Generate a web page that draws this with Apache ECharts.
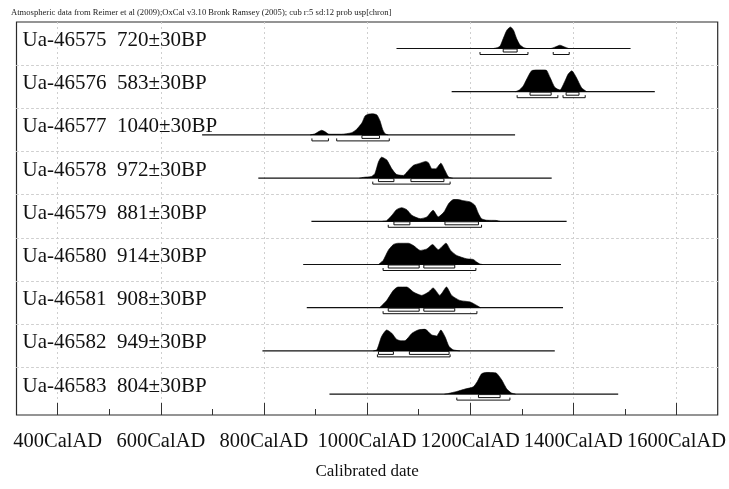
<!DOCTYPE html>
<html>
<head>
<meta charset="utf-8">
<script src="https://cdn.jsdelivr.net/npm/echarts@6/dist/echarts.min.js"></script>
<style>
  html, body { margin: 0; padding: 0; background: #fff; }
  #chart { width: 729px; height: 489px; }
</style>
</head>
<body>
<div id="chart"></div>
<script>
// Sample names with their radiocarbon ages
const sampleLabels = [
  'Ua-46575  720±30BP',
  'Ua-46576  583±30BP',
  'Ua-46577  1040±30BP',
  'Ua-46578  972±30BP',
  'Ua-46579  881±30BP',
  'Ua-46580  914±30BP',
  'Ua-46581  908±30BP',
  'Ua-46582  949±30BP',
  'Ua-46583  804±30BP'
];

// Calendar span over which each calibrated curve is plotted (cal AD)
const plotRanges = [
  [1057, 1511], [1164, 1558], [680, 1287], [789, 1358], [892, 1387],
  [876, 1376], [883, 1380], [797, 1364], [927, 1487]
];

// Calibrated probability distributions: [cal AD, relative probability %]
const dist46575 = [[1245,0],[1254,5],[1258,11],[1264,45],[1271,83],[1278,98],[1284,83],[1290,45],[1296,18],[1303,5],[1310,0],[1356,0],[1365,7],[1374,15],[1383,7],[1391,0]];
const dist46576 = [[1288,0],[1296,9],[1303,27],[1313,73],[1319,95],[1324,99],[1335,100],[1347,99],[1355,64],[1364,20],[1374,8],[1384,50],[1390,80],[1397,95],[1406,64],[1416,18],[1426,0]];
const dist46577 = [[890,0],[899,5],[906,15],[912,21],[918,15],[925,4],[932,3],[950,3],[970,10],[980,26],[990,55],[996,86],[1002,94],[1010,96],[1019,91],[1025,64],[1030,26],[1035,5],[1041,0]];
const dist46578 = [[985,0],[995,4],[1008,7],[1015,20],[1022,73],[1028,95],[1038,83],[1048,42],[1057,17],[1070,12],[1080,35],[1090,58],[1103,68],[1114,76],[1119,70],[1126,42],[1133,42],[1143,68],[1151,35],[1158,5],[1166,0]];
const dist46579 = [[1030,0],[1038,3],[1048,27],[1057,53],[1067,62],[1077,53],[1087,27],[1103,12],[1116,20],[1128,50],[1138,20],[1149,42],[1158,80],[1167,99],[1175,100],[1184,95],[1200,88],[1209,73],[1216,35],[1222,12],[1232,5],[1250,4],[1258,0]];
const dist46580 = [[1022,0],[1031,18],[1041,64],[1051,91],[1060,97],[1080,97],[1090,86],[1103,64],[1116,71],[1127,91],[1138,67],[1153,97],[1162,64],[1174,41],[1193,26],[1206,23],[1212,12],[1218,3],[1224,0]];
const dist46581 = [[1024,0],[1038,33],[1051,79],[1060,94],[1077,94],[1090,71],[1106,56],[1119,71],[1128,90],[1141,56],[1154,94],[1164,56],[1180,33],[1200,26],[1213,10],[1220,0]];
const dist46582 = [[1012,0],[1019,5],[1028,65],[1038,95],[1048,80],[1057,53],[1066,46],[1074,47],[1087,80],[1099,95],[1112,99],[1125,73],[1135,68],[1143,95],[1151,65],[1159,20],[1167,5],[1180,0]];
const dist46583 = [[1150,0],[1158,3],[1174,12],[1190,23],[1206,33],[1214,58],[1222,92],[1232,99],[1242,98],[1251,95],[1261,65],[1271,23],[1280,5],[1288,0]];

// 68.2% (1 sigma) and 95.4% (2 sigma) ranges, cal AD
const sigma1 = [
  [[1264,1291]],
  [[1316,1357],[1386,1411]],
  [[990,1024]],
  [[1022,1052],[1085,1149]],
  [[1052,1083],[1151,1216]],
  [[1041,1101],[1110,1170]],
  [[1041,1101],[1110,1170]],
  [[1022,1051],[1082,1159]],
  [[1216,1258]]
];
const sigma2 = [
  [[1219,1312],[1361,1392]],
  [[1291,1370],[1380,1423]],
  [[893,925],[941,1043]],
  [[1011,1161]],
  [[1041,1222]],
  [[1031,1211]],
  [[1031,1213]],
  [[1020,1161]],
  [[1174,1277]]
];

// Calendar axis
const tickYears = [400, 600, 800, 1000, 1200, 1400, 1600];
const tickLabels = ['400CalAD', '600CalAD', '800CalAD', '1000CalAD', '1200CalAD', '1400CalAD', '1600CalAD'];
const axisTitle = 'Calibrated date';
const headerText = 'Atmospheric data from Reimer et al (2009);OxCal v3.10 Bronk Ramsey (2005); cub r:5 sd:12 prob usp[chron]';

const distributions = [dist46575, dist46576, dist46577, dist46578, dist46579, dist46580, dist46581, dist46582, dist46583];

// ---- layout ----
const FONT = '"Liberation Serif", "Times New Roman", serif';
const X_MIN = 320, X_MAX = 1680;
const FRAME = { left: 16.5, right: 11.3, top: 22, bottom: 74 };
const ROW0 = 48.5, PITCH = 43.2, PEAK_PX = 22;
const Y_MIN = -75, Y_MAX = 100;
const rowHeight = PEAK_PX * (Y_MAX - Y_MIN) / Y_MAX;
const pxPerYear = (729 - FRAME.left - FRAME.right) / (X_MAX - X_MIN);

const grids = [
  // outer frame
  { left: FRAME.left, right: FRAME.right, top: FRAME.top, bottom: FRAME.bottom,
    show: true, borderColor: '#2b2b2b', borderWidth: 1.2, backgroundColor: 'transparent' },
  // calendar ticks / labels / vertical guides
  { left: FRAME.left + (tickYears[0] - X_MIN) * pxPerYear,
    right: FRAME.right + (X_MAX - tickYears[tickYears.length - 1]) * pxPerYear,
    top: FRAME.top, bottom: FRAME.bottom },
  // sample names
  { left: FRAME.left, right: FRAME.right, top: ROW0 - 8 - PITCH / 2, height: PITCH * sampleLabels.length }
];
const xAxes = [
  { gridIndex: 0, type: 'value', min: 0, max: 1, show: false },
  { gridIndex: 1, type: 'value', min: tickYears[0], max: tickYears[tickYears.length - 1], interval: 200,
    axisLine: { show: false },
    axisTick: { show: true, inside: true, length: 12, lineStyle: { color: '#333', width: 1 } },
    minorTick: { show: true, splitNumber: 2, length: 6, lineStyle: { color: '#333', width: 1 } },
    splitLine: { show: true, lineStyle: { color: '#cfcfcf', width: 1, type: [2, 3] } },
    axisLabel: { show: true, showMinLabel: true, showMaxLabel: true, margin: 16,
      fontFamily: FONT, fontSize: 20.5, color: '#111',
      formatter: v => tickLabels[tickYears.indexOf(v)] || '' },
    name: axisTitle, nameLocation: 'middle', nameGap: 48,
    nameTextStyle: { fontFamily: FONT, fontSize: 17, color: '#111' } },
  { gridIndex: 2, type: 'value', min: 0, max: 1, show: false }
];
const yAxes = [
  { gridIndex: 0, type: 'value', min: 0, max: 1, show: false },
  { gridIndex: 1, type: 'value', min: 0, max: 1, show: false },
  { gridIndex: 2, type: 'category', inverse: true, data: sampleLabels,
    axisLine: { show: false }, axisTick: { show: false }, splitLine: { show: false },
    axisLabel: { inside: true, margin: 6, fontFamily: FONT, fontSize: 21, color: '#111' } }
];
const series = [];

distributions.forEach((dist, i) => {
  const base = ROW0 + PITCH * i;
  const g = grids.length;
  grids.push({ left: FRAME.left, right: FRAME.right, top: base - PEAK_PX, height: rowHeight });
  xAxes.push({ gridIndex: g, type: 'value', min: X_MIN, max: X_MAX,
    axisLabel: { show: false }, axisTick: { show: false }, splitLine: { show: false },
    axisLine: { show: i < distributions.length - 1, onZero: false,
      lineStyle: { color: '#cfcfcf', width: 1, type: [2, 3] } } });
  yAxes.push({ gridIndex: g, type: 'value', min: Y_MIN, max: Y_MAX, show: false });

  // plotted span of the calibration
  series.push({ type: 'line', xAxisIndex: g, yAxisIndex: g, silent: true, z: 2,
    symbol: 'none', data: [[plotRanges[i][0], 0], [plotRanges[i][1], 0]],
    lineStyle: { color: '#111', width: 1.2 } });
  // probability distribution
  series.push({ type: 'line', xAxisIndex: g, yAxisIndex: g, silent: true, z: 3,
    symbol: 'none', smooth: 0.2, data: dist,
    lineStyle: { color: '#000', width: 0.6 },
    areaStyle: { color: '#000', opacity: 1 } });
  // sigma ranges under the curve
  const ranges = sigma1[i].map(r => [r[0], r[1], 1]).concat(sigma2[i].map(r => [r[0], r[1], 2]));
  series.push({ type: 'custom', xAxisIndex: g, yAxisIndex: g, silent: true, z: 4,
    dimensions: ['from', 'to', 'level'], encode: { x: [0, 1], y: 2 },
    data: ranges,
    renderItem: (params, api) => {
      const a = api.coord([api.value(0), 0]);
      const b = api.coord([api.value(1), 0]);
      if (api.value(2) === 1) {
        return { type: 'rect',
          shape: { x: a[0], y: a[1] + 0.5, width: b[0] - a[0], height: 3 },
          style: { fill: '#fff', stroke: '#111', lineWidth: 1 } };
      }
      return { type: 'polyline',
        shape: { points: [[a[0], a[1] + 3.5], [a[0], a[1] + 6], [b[0], a[1] + 6], [b[0], a[1] + 3.5]] },
        style: { fill: null, stroke: '#111', lineWidth: 1 } };
    } });
});

const chart = echarts.init(document.getElementById('chart'), null, { renderer: 'canvas' });
chart.setOption({
  animation: false,
  backgroundColor: '#fff',
  title: { text: headerText, left: 6, top: 3,
    textStyle: { fontFamily: FONT, fontSize: 8.6, fontWeight: 'normal', color: '#222' } },
  grid: grids,
  xAxis: xAxes,
  yAxis: yAxes,
  series: series
});
</script>
</body>
</html>
